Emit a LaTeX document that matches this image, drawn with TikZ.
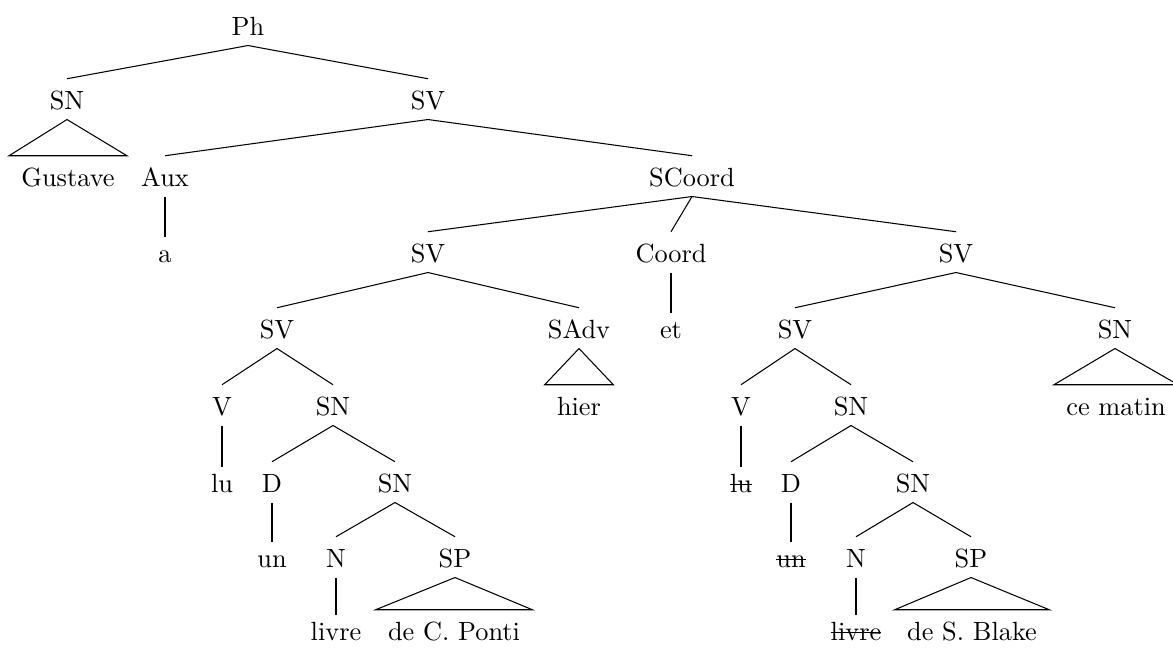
\documentclass[tikz,border=0pt]{standalone}
\newcommand\strikeout[1]{\leavevmode\setbox0=\hbox{#1}\rlap{\copy0}\rule[0.6ex]{\wd0}{0.4pt}}
\begin{document}
\begin{tikzpicture}[x=0.38pt,y=-0.38pt,
    every node/.style={anchor=base,text height=7.5pt,text depth=0pt,inner xsep=4.5pt,inner ysep=3.8pt},
    leaf/.style={text height=5.6pt}]
      \useasboundingbox (0,0) rectangle (1173,650);
      \draw
        (248,35) node (ph){Ph}
        (67,109) node (sn){SN}
        (428,109) node (sv){SV}
        (68,186) node (gus){Gustave}
        (165,186) node (aux){Aux}
        (692,186) node (scoord){SCoord}
        (165,262) node[leaf] (a){a}
        (428,262) node (svl){SV}
        (671,262) node (coord){Coord}
        (956,262) node (svr){SV}
        (277,338) node (svll){SV}
        (579,338) node (sadv){SAdv}
        (671,338) node[leaf] (et){et}
        (795,338) node (svrl){SV}
        (1115,338) node (snr){SN}
        (222,415) node (vl){V}
        (333,415) node (snl){SN}
        (579,415) node (hier){hier}
        (741,415) node (vr){V}
        (851,415) node (snrl){SN}
        (1116,415) node (matin){ce matin}
        (222,492) node[leaf] (lul){lu}
        (272,492) node (dl){D}
        (395,492) node (snl2){SN}
        (741,492) node[leaf] (lur){\strikeout{lu}}
        (791,492) node (dr){D}
        (913,492) node (snr2){SN}
        (272,567) node[leaf] (unl){un}
        (336,567) node (nl){N}
        (455,567) node (spl){SP}
        (791,567) node[leaf] (unr){\strikeout{un}}
        (856,567) node (nr){N}
        (971,567) node (spr){SP}
        (336,640) node[leaf] (livrel){livre}
        (454,640) node (pontil){de C. Ponti}
        (856,640) node[leaf] (livrer){\strikeout{livre}}
        (972,640) node (blake){de S. Blake};
      \begin{scope}[-]
        \draw (ph.south) to (sn.north);
        \draw (ph.south) to (sv.north);
        \draw (sv.south) to (aux.north);
        \draw (sv.south) to (scoord.north);
        \draw (aux.south) to (a.north);
        \draw (scoord.south) to (svl.north);
        \draw (scoord.south) to (coord.north);
        \draw (scoord.south) to (svr.north);
        \draw (coord.south) to (et.north);
        \draw (svl.south) to (svll.north);
        \draw (svl.south) to (sadv.north);
        \draw (svr.south) to (svrl.north);
        \draw (svr.south) to (snr.north);
        \draw (svll.south) to (vl.north);
        \draw (svll.south) to (snl.north);
        \draw (vl.south) to (lul.north);
        \draw (snl.south) to (dl.north);
        \draw (snl.south) to (snl2.north);
        \draw (dl.south) to (unl.north);
        \draw (snl2.south) to (nl.north);
        \draw (snl2.south) to (spl.north);
        \draw (nl.south) to (livrel.north);
        \draw (svrl.south) to (vr.north);
        \draw (svrl.south) to (snrl.north);
        \draw (vr.south) to (lur.north);
        \draw (snrl.south) to (dr.north);
        \draw (snrl.south) to (snr2.north);
        \draw (dr.south) to (unr.north);
        \draw (snr2.south) to (nr.north);
        \draw (snr2.south) to (spr.north);
        \draw (nr.south) to (livrer.north);
      \end{scope}
      % triangles
      \draw (sn.south) -- (gus.north west) -- (gus.north east) -- cycle;
      \draw (sadv.south) -- (hier.north west) -- (hier.north east) -- cycle;
      \draw (snr.south) -- (matin.north west) -- (matin.north east) -- cycle;
      \draw (spl.south) -- (pontil.north west) -- (pontil.north east) -- cycle;
      \draw (spr.south) -- (blake.north west) -- (blake.north east) -- cycle;
    \end{tikzpicture}
\end{document}
